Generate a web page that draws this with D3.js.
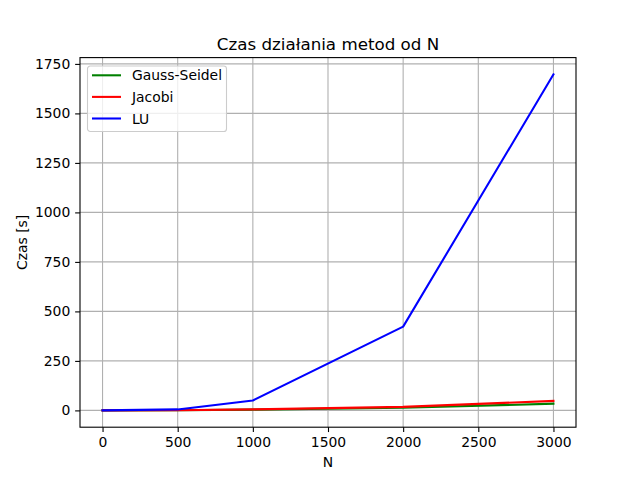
<!DOCTYPE html>
<html>
<head>
<meta charset="utf-8">
<script src="https://cdn.jsdelivr.net/npm/d3@7"></script>
<style>
  body { margin: 0; background: #fff; }
  text { font-family: "DejaVu Sans", sans-serif; }
</style>
</head>
<body>
<div id="theChart"></div>
<script>
// values
const sizes = [0, 500, 1000, 2000, 3000]
const gaussSeidel = [0, 0.7, 4, 13, 34]
const jacobi = [0, 1, 5, 18, 48]
const lu = [0, 5, 50, 423, 1697]
const xTicks = [0, 500, 1000, 1500, 2000, 2500, 3000]
const yTicks = [0, 250, 500, 750, 1000, 1250, 1500, 1750]

const series = [
  { name: "Gauss-Seidel", values: gaussSeidel, color: "#008000" },
  { name: "Jacobi", values: jacobi, color: "#ff0000" },
  { name: "LU", values: lu, color: "#0000ff" },
]

const w = 640
const h = 480
const padL = 80, padR = 576, padT = 57.6, padB = 427.2

const svg = d3.select("#theChart").append("svg")
  .attr("width", w)
  .attr("height", h)

// matplotlib-style 5% margins
const xMin = d3.min(sizes), xMax = d3.max(sizes)
const xPad = (xMax - xMin) * 0.05
const x = d3.scaleLinear().domain([xMin - xPad, xMax + xPad]).range([padL, padR])

const allY = series.flatMap(s => s.values)
const yMin = d3.min(allY), yMax = d3.max(allY)
const yPad = (yMax - yMin) * 0.05
const y = d3.scaleLinear().domain([yMin - yPad, yMax + yPad]).range([padB, padT])

// grid
const grid = svg.append("g")
grid.selectAll("line.gx").data(xTicks).enter().append("line")
  .attr("x1", d => x(d)).attr("x2", d => x(d))
  .attr("y1", padT).attr("y2", padB)
  .attr("stroke", "#b0b0b0").attr("stroke-width", 1.1)
grid.selectAll("line.gy").data(yTicks).enter().append("line")
  .attr("x1", padL).attr("x2", padR)
  .attr("y1", d => y(d)).attr("y2", d => y(d))
  .attr("stroke", "#b0b0b0").attr("stroke-width", 1.1)

// lines
const line = d3.line()
  .x((d, i) => x(sizes[i]))
  .y(d => y(d))

svg.append("g").selectAll("path").data(series).enter().append("path")
  .attr("d", d => line(d.values))
  .attr("fill", "none")
  .attr("stroke", d => d.color)
  .attr("stroke-width", 2.08)
  .attr("stroke-linejoin", "round")
  .attr("stroke-linecap", "square")

// axes
const xAxis = d3.axisBottom(x).tickValues(xTicks).tickSize(4.86).tickPadding(4.9).tickFormat(d3.format("d"))
const yAxis = d3.axisLeft(y).tickValues(yTicks).tickSize(4.86).tickPadding(4.9).tickFormat(d3.format("d"))

const gx = svg.append("g").attr("transform", `translate(0,${padB})`).call(xAxis)
const gy = svg.append("g").attr("transform", `translate(${padL},0)`).call(yAxis)
for (const g of [gx, gy]) {
  g.select(".domain").remove()
  g.selectAll(".tick line").attr("stroke", "#000").attr("stroke-width", 1.1)
  g.selectAll(".tick text")
    .attr("fill", "#000")
    .style("font-size", "13.9px")
    .style("font-family", "DejaVu Sans, sans-serif")
}

// frame
svg.append("rect")
  .attr("x", padL).attr("y", padT)
  .attr("width", padR - padL).attr("height", padB - padT)
  .attr("fill", "none").attr("stroke", "#000").attr("stroke-width", 1.1)

// labels
svg.append("text")
  .attr("x", (padL + padR) / 2).attr("y", 49.5)
  .attr("text-anchor", "middle")
  .style("font-size", "16.7px")
  .text("Czas działania metod od N")

svg.append("text")
  .attr("x", (padL + padR) / 2).attr("y", 467)
  .attr("text-anchor", "middle")
  .style("font-size", "13.9px")
  .text("N")

svg.append("text")
  .attr("transform", `translate(27,${(padT + padB) / 2}) rotate(-90)`)
  .attr("text-anchor", "middle")
  .style("font-size", "13.9px")
  .text("Czas [s]")

// legend
const legend = svg.append("g").attr("transform", "translate(87.5,66)")
legend.append("rect")
  .attr("width", 139).attr("height", 65.5)
  .attr("rx", 2.8)
  .attr("fill", "#fff").attr("fill-opacity", 0.8)
  .attr("stroke", "#cccccc").attr("stroke-width", 1.1)

const item = legend.selectAll("g.item").data(series).enter().append("g")
  .attr("transform", (d, i) => `translate(0,${9.3 + i * 21.6})`)
item.append("line")
  .attr("x1", 4.5).attr("x2", 33.5)
  .attr("stroke", d => d.color).attr("stroke-width", 2.08)
item.append("text")
  .attr("x", 44.5).attr("y", 5)
  .style("font-size", "13.9px")
  .text(d => d.name)
</script>
</body>
</html>
